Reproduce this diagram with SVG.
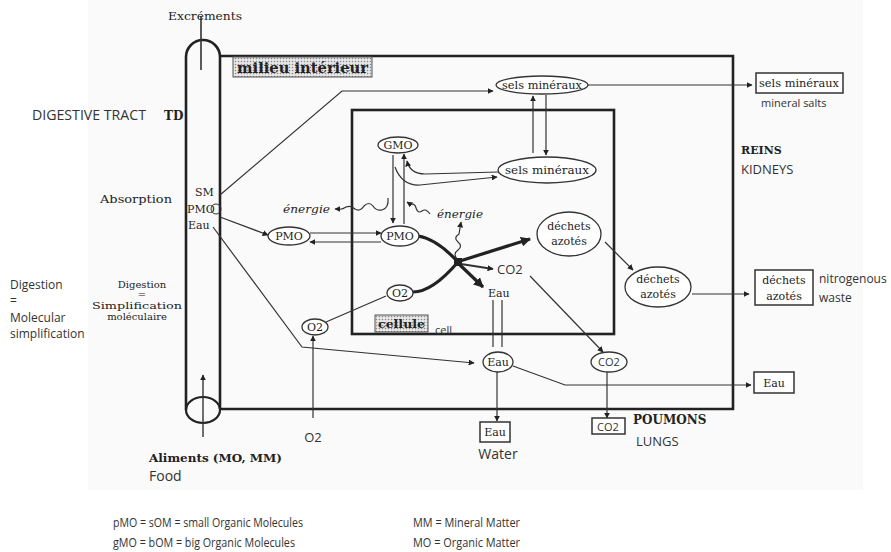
<svg xmlns="http://www.w3.org/2000/svg" width="891" height="552" viewBox="0 0 891 552">
<defs>
<marker id="ah" viewBox="0 0 10 10" refX="9" refY="5" markerWidth="6" markerHeight="6" orient="auto-start-reverse" markerUnits="userSpaceOnUse"><path d="M0,0 L10,5 L0,10 z" fill="#222"/></marker>
<marker id="ahb" viewBox="0 0 10 10" refX="9" refY="5" markerWidth="10" markerHeight="10" orient="auto" markerUnits="userSpaceOnUse"><path d="M0,0 L10,5 L0,10 z" fill="#222"/></marker>
<pattern id="dots" width="3" height="3" patternUnits="userSpaceOnUse"><rect width="3" height="3" fill="#e8e8e8"/><circle cx="1.5" cy="1.5" r="0.8" fill="#888"/></pattern>
</defs>
<style>
.s{font-family:"DejaVu Serif","Liberation Serif",serif;font-size:11px;fill:#222}
.sb{font-family:"DejaVu Serif","Liberation Serif",serif;font-size:11px;font-weight:bold;fill:#222}
.si{font-family:"DejaVu Serif","Liberation Serif",serif;font-size:11px;font-style:italic;fill:#222}
.a{font-family:"Open Sans","Liberation Sans",sans-serif;font-size:12px;fill:#333}
.ln{fill:none;stroke:#333;stroke-width:1.2}
.thk{fill:none;stroke:#222;stroke-width:3.2}
.frame{fill:none;stroke:#222;stroke-width:2.6}
.el{fill:#fff;stroke:#333;stroke-width:1.3}
.bx{fill:#fff;stroke:#333;stroke-width:1.5}
</style>
<rect width="891" height="552" fill="#fff"/>
<rect x="88" y="0" width="775" height="490" fill="#fafafa"/>

<g id="frames">
<path class="frame" d="M186,410 L186,57 A17,17 0 0 1 220,57 L220,409"/>
<ellipse cx="203" cy="410" rx="17" ry="13" class="frame" style="stroke-width:2.2"/>
<path class="frame" d="M220,56 L733,56 L733,409 L220,409"/>
<rect x="352" y="110" width="262" height="224" class="frame"/>
</g>

<g id="connectors">
<line x1="201" y1="70" x2="201" y2="16" class="ln" style="stroke-width:1.6"/>
<line x1="203" y1="437" x2="203" y2="375" class="ln" style="stroke-width:1.4" marker-end="url(#ah)"/>
<polyline class="ln" points="220,195 342,91 493,91" marker-end="url(#ah)"/>
<line x1="588" y1="85" x2="752" y2="85" class="ln" marker-end="url(#ah)"/>
<line x1="533" y1="153" x2="533" y2="96" class="ln" marker-end="url(#ah)"/>
<line x1="546" y1="95" x2="546" y2="155" class="ln" marker-end="url(#ah)"/>
<line x1="393" y1="155" x2="393" y2="223" class="ln" marker-end="url(#ah)"/>
<line x1="404" y1="224" x2="404" y2="154" class="ln" marker-end="url(#ah)"/>
<path class="ln" d="M498,172 L425,174 Q410,174 407,161" marker-end="url(#ah)"/>
<path class="ln" d="M395,167 Q402,186 420,185 L497,177" marker-end="url(#ah)"/>
<line x1="220" y1="217" x2="268" y2="235" class="ln" marker-end="url(#ah)"/>
<line x1="310" y1="233" x2="381" y2="233" class="ln" marker-end="url(#ah)"/>
<line x1="381" y1="242" x2="310" y2="242" class="ln" marker-end="url(#ah)"/>
<path class="ln" d="M388,198 q1,10 -6,12 q-6,1 -9,-4 q-4,-5 -9,0 q-4,6 -9,3 q-4,-4 -9,-2 q-4,3 -8,2 L335,209" marker-end="url(#ah)"/>
<path class="ln" d="M430,214 q-4,-6 -8,-3 q-4,3 -6,-3 q-1,-5 -6,-4 L407,202" marker-end="url(#ah)"/>
<path class="ln" d="M458,260 q-6,-6 0,-10 q5,-4 0,-8 q-5,-4 1,-8 L461,222" marker-end="url(#ah)"/>
<path class="thk" d="M418,236 C432,238 445,248 458,262"/>
<path class="thk" d="M413,292 C430,292 446,276 458,262"/>
<rect x="454" y="258" width="8" height="8" fill="#222"/>
<line x1="460" y1="261" x2="530" y2="239" class="thk" marker-end="url(#ahb)"/>
<line x1="461" y1="264" x2="493" y2="269" class="ln" style="stroke-width:2" marker-end="url(#ah)"/>
<line x1="460" y1="265" x2="483" y2="287" class="thk" marker-end="url(#ahb)"/>
<line x1="493" y1="300" x2="493" y2="347" class="ln"/>
<line x1="502" y1="300" x2="502" y2="347" class="ln"/>
<line x1="530" y1="276" x2="603" y2="352" class="ln" marker-end="url(#ah)"/>
<line x1="605" y1="242" x2="633" y2="270" class="ln" marker-end="url(#ah)"/>
<line x1="692" y1="294" x2="749" y2="294" class="ln" marker-end="url(#ah)"/>
<line x1="386" y1="296" x2="326" y2="322" class="ln"/>
<line x1="313" y1="418" x2="313" y2="336" class="ln" marker-end="url(#ah)"/>
<polyline class="ln" points="213,227 302,347 474,363" marker-end="url(#ah)"/>
<polyline class="ln" points="513,366 565,385 751,385" marker-end="url(#ah)"/>
<line x1="497" y1="372" x2="497" y2="421" class="ln" marker-end="url(#ah)"/>
<line x1="607" y1="372" x2="607" y2="418" class="ln" marker-end="url(#ah)"/>
</g>

<g id="milieu">
<rect x="233" y="57" width="139" height="20" fill="url(#dots)" stroke="#555" stroke-width="1"/>
<text x="237" y="73" class="sb" style="font-size:14px" textLength="131" lengthAdjust="spacingAndGlyphs">milieu intérieur</text>
</g>

<g id="sels-top">
<ellipse cx="542" cy="85" rx="46" ry="9" class="el"/>
<text x="542" y="89" class="s" text-anchor="middle" textLength="80" lengthAdjust="spacingAndGlyphs">sels minéraux</text>
</g>
<g id="sels-out">
<rect x="756" y="73" width="87" height="20" class="bx"/>
<text x="799" y="87" class="s" text-anchor="middle" textLength="80" lengthAdjust="spacingAndGlyphs">sels minéraux</text>
<text x="761" y="107" class="a" style="font-size:11px">mineral salts</text>
</g>
<g id="sels-cell">
<ellipse cx="547" cy="170" rx="49" ry="13" class="el"/>
<text x="547" y="174" class="s" text-anchor="middle" textLength="84" lengthAdjust="spacingAndGlyphs">sels minéraux</text>
</g>
<g id="gmo">
<ellipse cx="398" cy="145" rx="20" ry="8" class="el"/>
<text x="398" y="149" class="s" text-anchor="middle">GMO</text>
</g>
<g id="pmo-mi">
<ellipse cx="289" cy="236" rx="21" ry="9" class="el"/>
<text x="289" y="240" class="s" text-anchor="middle">PMO</text>
</g>
<g id="pmo-cell">
<ellipse cx="400" cy="236" rx="19" ry="10" class="el"/>
<text x="400" y="240" class="s" text-anchor="middle">PMO</text>
</g>
<g id="energie">
<text x="283" y="213" class="si" textLength="47" lengthAdjust="spacingAndGlyphs">énergie</text>
<text x="437" y="218" class="si" textLength="46" lengthAdjust="spacingAndGlyphs">énergie</text>
</g>
<g id="dechets-cell">
<ellipse cx="569" cy="234" rx="32" ry="22" class="el"/>
<text x="569" y="230" class="s" text-anchor="middle">déchets</text>
<text x="569" y="245" class="s" text-anchor="middle">azotés</text>
</g>
<g id="dechets-mi">
<ellipse cx="658" cy="287" rx="33" ry="20" class="el"/>
<text x="658" y="283" class="s" text-anchor="middle">déchets</text>
<text x="658" y="298" class="s" text-anchor="middle">azotés</text>
</g>
<g id="dechets-out">
<rect x="755" y="270" width="58" height="35" class="bx"/>
<text x="784" y="284" class="s" text-anchor="middle">déchets</text>
<text x="784" y="300" class="s" text-anchor="middle">azotés</text>
<text x="819" y="283" class="a">nitrogenous</text>
<text x="819" y="302" class="a">waste</text>
</g>
<g id="co2-cell"><text x="497" y="274" class="a" style="font-size:13px">CO2</text></g>
<g id="eau-cell"><text x="488" y="297" class="s">Eau</text></g>
<g id="o2-cell">
<ellipse cx="400" cy="293" rx="13" ry="8" class="el"/>
<text x="400" y="297" class="s" text-anchor="middle">O2</text>
</g>
<g id="cellule">
<rect x="375" y="315" width="53" height="17" fill="url(#dots)" stroke="#555" stroke-width="1"/>
<text x="378" y="328" class="sb" textLength="47" lengthAdjust="spacingAndGlyphs">cellule</text>
<text x="435" y="334" class="a" style="font-size:11px">cell</text>
</g>
<g id="o2-mi">
<ellipse cx="315" cy="327" rx="13" ry="8" class="el"/>
<text x="315" y="331" class="s" text-anchor="middle">O2</text>
</g>
<g id="o2-in"><text x="313" y="442" class="a" text-anchor="middle" style="font-size:13px">O2</text></g>
<g id="eau-mi">
<ellipse cx="498" cy="362" rx="15" ry="10" class="el"/>
<text x="498" y="366" class="s" text-anchor="middle">Eau</text>
</g>
<g id="eau-lung">
<rect x="480" y="422" width="30" height="20" class="bx"/>
<text x="495" y="436" class="s" text-anchor="middle">Eau</text>
<text x="498" y="459" class="a" text-anchor="middle" style="font-size:14px">Water</text>
</g>
<g id="eau-kid">
<rect x="754" y="372" width="40" height="21" class="bx"/>
<text x="774" y="387" class="s" text-anchor="middle">Eau</text>
</g>
<g id="co2-mi">
<ellipse cx="609" cy="362" rx="18" ry="10" class="el"/>
<text x="609" y="366" class="a" text-anchor="middle" style="font-size:11px">CO2</text>
</g>
<g id="co2-lung">
<rect x="592" y="418" width="33" height="16" class="bx"/>
<text x="608" y="431" class="a" text-anchor="middle" style="font-size:11px">CO2</text>
<text x="633" y="424" class="sb" style="font-size:12px">POUMONS</text>
<text x="636" y="446" class="a" style="font-size:13px">LUNGS</text>
</g>
<g id="tube-labels">
<text x="168" y="20" class="s" textLength="74" lengthAdjust="spacingAndGlyphs">Excréments</text>
<text x="32" y="120" class="a" style="font-size:14px" textLength="114" lengthAdjust="spacingAndGlyphs">DIGESTIVE TRACT</text>
<text x="164" y="120" class="sb" style="font-size:12px">TD</text>
<text x="100" y="203" class="s" textLength="72" lengthAdjust="spacingAndGlyphs">Absorption</text>
<text x="195" y="196" class="s">SM</text>
<text x="187" y="213" class="s">PMO</text>
<circle cx="216" cy="209" r="5" fill="none" stroke="#333" stroke-width="1"/>
<text x="188" y="229" class="s">Eau</text>
<text x="142" y="288" class="s" text-anchor="middle" style="font-size:10px">Digestion</text>
<text x="142" y="298" class="s" text-anchor="middle" style="font-size:10px">=</text>
<text x="137" y="309" class="s" text-anchor="middle" style="font-size:10px" textLength="90" lengthAdjust="spacingAndGlyphs">Simplification</text>
<text x="137" y="320" class="s" text-anchor="middle" style="font-size:10px">moléculaire</text>
<text x="10" y="289" class="a">Digestion</text>
<text x="10" y="305" class="a">=</text>
<text x="10" y="322" class="a">Molecular</text>
<text x="10" y="338" class="a">simplification</text>
<text x="741" y="154" class="sb" style="font-size:11px">REINS</text>
<text x="741" y="174" class="a" style="font-size:13px">KIDNEYS</text>
<text x="149" y="462" class="sb" textLength="133" lengthAdjust="spacingAndGlyphs">Aliments (MO, MM)</text>
<text x="149" y="481" class="a" style="font-size:14px">Food</text>
</g>
<g id="legend">
<text x="113" y="527" class="a" textLength="190" lengthAdjust="spacingAndGlyphs">pMO = sOM = small Organic Molecules</text>
<text x="113" y="547" class="a" textLength="182" lengthAdjust="spacingAndGlyphs">gMO = bOM = big Organic Molecules</text>
<text x="413" y="527" class="a" textLength="107" lengthAdjust="spacingAndGlyphs">MM = Mineral Matter</text>
<text x="413" y="547" class="a" textLength="107" lengthAdjust="spacingAndGlyphs">MO = Organic Matter</text>
</g>
</svg>
